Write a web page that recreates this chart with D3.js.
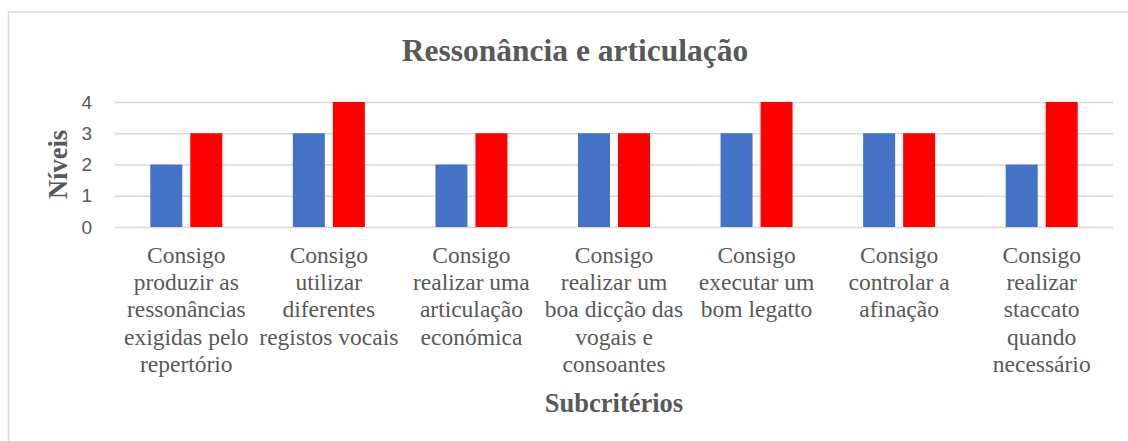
<!DOCTYPE html>
<html>
<head>
<meta charset="utf-8">
<script src="https://cdn.jsdelivr.net/npm/d3@7"></script>
<style>
  body { margin: 0; background: #fff; }
</style>
</head>
<body>
<div id="chart"></div>
<script>
// categories, wrapped as in the original
var categories = [
    ["Consigo", "produzir as", "ressonâncias", "exigidas pelo", "repertório"],
    ["Consigo", "utilizar", "diferentes", "registos vocais"],
    ["Consigo", "realizar uma", "articulação", "económica"],
    ["Consigo", "realizar um", "boa dicção das", "vogais e", "consoantes"],
    ["Consigo", "executar um", "bom legatto"],
    ["Consigo", "controlar a", "afinação"],
    ["Consigo", "realizar", "staccato", "quando", "necessário"]
];
var seriesNames = ["antes", "depois"];
var blueValues = [2, 3, 2, 3, 3, 3, 2];
var redValues = [3, 4, 3, 3, 4, 3, 4];
var yTicks = [0, 1, 2, 3, 4];

var svgWidth = 1128;
var svgHeight = 441;
var plotLeft = 115;
var plotRight = 1113;
var plotTop = 102;
var plotBottom = 227;
var grey = "#595959";
var serif = "'Liberation Serif', 'Times New Roman', serif";

var svg = d3.select("#chart")
    .append("svg")
    .attr("width", svgWidth)
    .attr("height", svgHeight);

// chart border
svg.append("rect")
    .attr("x", 8.5)
    .attr("y", 12)
    .attr("width", 1140)
    .attr("height", 460)
    .attr("fill", "#fff")
    .attr("stroke", "#d9d9d9")
    .attr("stroke-width", 1.5);

var idx = d3.range(categories.length);

var x0 = d3.scaleBand()
    .domain(idx)
    .range([plotLeft, plotRight]);

var groupW = x0.bandwidth() * 0.505;
var x1 = d3.scaleBand()
    .domain(seriesNames)
    .range([0, groupW])
    .paddingInner(0.2);

var y = d3.scaleLinear()
    .domain([0, 4])
    .range([plotBottom, plotTop]);

// gridlines + y labels
var yAxis = d3.axisLeft(y)
    .tickValues(yTicks)
    .tickSize(-(plotRight - plotLeft))
    .tickPadding(23)
    .tickFormat(d3.format("d"));

var yG = svg.append("g")
    .attr("transform", `translate(${plotLeft},0)`)
    .call(yAxis);
yG.select(".domain").remove();
yG.selectAll(".tick line")
    .attr("stroke", "#d9d9d9")
    .attr("stroke-width", 1.5);
yG.selectAll(".tick text")
    .attr("fill", grey)
    .style("font-family", "'Liberation Sans', Arial, sans-serif")
    .style("font-size", "19px");

// bars
var groups = svg.append("g").selectAll("g")
    .data(idx)
    .enter()
    .append("g")
    .attr("transform", i => `translate(${x0(i) + (x0.bandwidth() - groupW) / 2},0)`);

groups.append("rect")
    .attr("x", x1("antes"))
    .attr("y", i => y(blueValues[i]))
    .attr("width", x1.bandwidth())
    .attr("height", i => y(0) - y(blueValues[i]))
    .attr("fill", "#4472C4");

groups.append("rect")
    .attr("x", x1("depois"))
    .attr("y", i => y(redValues[i]))
    .attr("width", x1.bandwidth())
    .attr("height", i => y(0) - y(redValues[i]))
    .attr("fill", "#FF0000");

// category labels
var catText = svg.append("g").selectAll("text")
    .data(idx)
    .enter()
    .append("text")
    .attr("text-anchor", "middle")
    .style("font-family", serif)
    .style("font-size", "23.5px")
    .attr("fill", grey);

catText.selectAll("tspan")
    .data(i => categories[i].map(s => ({ i: i, s: s })))
    .enter()
    .append("tspan")
    .attr("x", d => x0(d.i) + x0.bandwidth() / 2)
    .attr("y", (d, j) => 263 + j * 27.2)
    .text(d => d.s);

// title
svg.append("text")
    .attr("x", 575)
    .attr("y", 61)
    .attr("text-anchor", "middle")
    .style("font-family", serif)
    .style("font-weight", "bold")
    .style("font-size", "31.5px")
    .attr("fill", grey)
    .text("Ressonância e articulação");

// x axis title
svg.append("text")
    .attr("x", (plotLeft + plotRight) / 2)
    .attr("y", 412)
    .attr("text-anchor", "middle")
    .style("font-family", serif)
    .style("font-weight", "bold")
    .style("font-size", "26.5px")
    .attr("fill", grey)
    .text("Subcritérios");

// y axis title
svg.append("text")
    .attr("transform", `translate(67,${(plotTop + plotBottom) / 2}) rotate(-90)`)
    .attr("text-anchor", "middle")
    .style("font-family", serif)
    .style("font-weight", "bold")
    .style("font-size", "26.5px")
    .attr("fill", grey)
    .text("Níveis");
</script>
</body>
</html>
